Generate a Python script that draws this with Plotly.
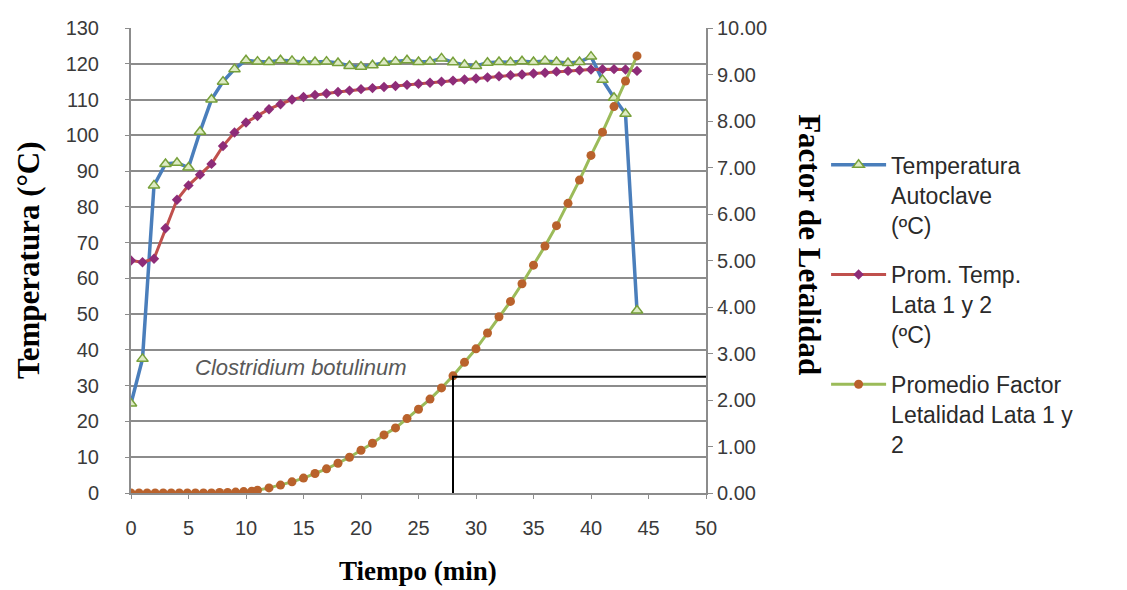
import plotly.graph_objects as go

# ---- data ----
tiempo = list(range(0, 45))
temp_autoclave = [25, 37.5, 86, 92, 92.3, 91, 101, 110, 115, 118.5,
                  121, 120.6, 120.5, 121, 120.8, 120.5, 120.5, 120.6, 120.2, 119.4,
                  119.2, 119.6, 120.3, 120.6, 121, 120.5, 120.6, 121.5, 120.4, 119.7,
                  119.4, 120.3, 120.5, 120.4, 120.7, 120.5, 120.8, 120.5, 120.2, 120.5,
                  122, 115.5, 110.5, 106, 51]
prom_temp_lata = [65, 64.5, 65.5, 74, 82, 86, 89, 92, 97, 100.8,
                  103.6, 105.4, 107.3, 108.7, 110, 110.7, 111.3, 111.7, 112.1, 112.5,
                  112.9, 113.2, 113.5, 113.8, 114.1, 114.4, 114.7, 115, 115.3, 115.6,
                  115.9, 116.2, 116.5, 116.8, 117, 117.3, 117.5, 117.8, 118, 118.2,
                  118.4, 118.5, 118.5, 118.4, 118]
tiempo_letalidad = [0, 0.7, 1.4, 2.1, 2.8, 3.5, 4.2, 4.9, 5.6, 6.3, 7.0, 7.7, 8.4, 9.1, 9.8, 10.5,
                    11, 12, 13, 14, 15, 16, 17, 18, 19, 20, 21, 22, 23, 24, 25, 26, 27, 28,
                    29, 30, 31, 32, 33, 34, 35, 36, 37, 38, 39, 40, 41, 42, 43, 44]
factor_letalidad = [0, 0, 0, 0, 0, 0, 0, 0, 0, 0, 0, 0.01, 0.01, 0.02, 0.03, 0.04,
                    0.06, 0.11, 0.17, 0.24, 0.32, 0.42, 0.52, 0.64, 0.77, 0.92, 1.07, 1.25, 1.40, 1.60,
                    1.80, 2.02, 2.26, 2.52, 2.81, 3.10, 3.44, 3.79, 4.12, 4.50, 4.90, 5.31, 5.75, 6.23,
                    6.73, 7.26, 7.76, 8.31, 8.86, 9.40]
ref_x = [28, 28, 50]
ref_y = [0, 2.5, 2.5]

x_ticks = list(range(0, 51, 5))
y_ticks = list(range(0, 131, 10))
y2_ticks = [i * 1.0 for i in range(0, 11)]

GRID = "#8C8C8C"
TICKC = "#3A3A3A"
SERIF = "Liberation Serif, Times New Roman, serif"

fig = go.Figure()
fig.add_trace(go.Scatter(
    x=tiempo, y=temp_autoclave, mode="lines+markers",
    name="Temperatura<br>Autoclave<br>(ºC)", legendgroup="a",
    line=dict(color="#4A7EBB", width=3.5),
    marker=dict(symbol="triangle-up", size=10, color="#DDEBC4",
                line=dict(color="#77A03A", width=1.5)),
))
fig.add_trace(go.Scatter(
    x=tiempo, y=prom_temp_lata, mode="lines+markers",
    name="Prom. Temp.<br>Lata 1 y 2<br>(ºC)", legendgroup="b",
    line=dict(color="#C0504D", width=3),
    marker=dict(symbol="diamond", size=8, color="#8E2C78"),
))
fig.add_trace(go.Scatter(
    x=tiempo_letalidad, y=factor_letalidad, mode="lines+markers", yaxis="y2",
    name="Promedio Factor<br>Letalidad Lata 1 y<br>2", legendgroup="c",
    line=dict(color="#9BBB59", width=3),
    marker=dict(symbol="circle", size=9, color="#B9622C"),
))
fig.add_trace(go.Scatter(
    x=ref_x, y=ref_y, mode="lines", yaxis="y2", showlegend=False,
    line=dict(color="#000000", width=2), hoverinfo="skip",
))

fig.update_layout(
    width=1127, height=590,
    margin=dict(l=131, r=421, t=28, b=97),
    plot_bgcolor="white", paper_bgcolor="white",
    font=dict(family="Liberation Sans, Arial, sans-serif", color=TICKC, size=20),
    xaxis=dict(range=[0, 50], tickvals=x_ticks, showgrid=False,
               showline=True, linecolor=GRID, linewidth=2, zeroline=False,
               ticks="outside", ticklen=4, tickcolor=GRID, ticklabelstandoff=12,
               tickfont=dict(size=20, color=TICKC)),
    yaxis=dict(range=[0, 130], tickvals=y_ticks, showgrid=True, gridcolor=GRID,
               gridwidth=2, showline=True, linecolor=GRID, linewidth=2,
               zeroline=False, ticks="outside", ticklen=4, tickcolor=GRID,
               ticklabelstandoff=22,
               tickfont=dict(size=20, color=TICKC)),
    yaxis2=dict(range=[0, 10], tickvals=y2_ticks, tickformat=".2f",
                overlaying="y", side="right", showgrid=False, zeroline=False,
                showline=True, linecolor=GRID, linewidth=2,
                ticks="outside", ticklen=5, tickcolor=GRID,
                tickfont=dict(size=20, color=TICKC)),
    showlegend=True,
    legend=dict(xref="container", yref="container", x=0.733, y=0.757,
                xanchor="left", yanchor="top", valign="top", maxheight=480,
                font=dict(size=23, color="#2A2A2A"), tracegroupgap=17,
                itemwidth=55, bgcolor="rgba(0,0,0,0)"),
    annotations=[
        dict(text="Temperatura (°C)", xref="paper", yref="paper", x=-0.179, y=0.501,
             xanchor="center", yanchor="middle", textangle=-90, showarrow=False,
             font=dict(family=SERIF, size=31, color="black", weight="bold")),
        dict(text="Factor de Letalidad", xref="paper", yref="paper", x=1.181, y=0.535,
             xanchor="center", yanchor="middle", textangle=90, showarrow=False,
             font=dict(family=SERIF, size=31, color="black", weight="bold")),
        dict(text="Tiempo (min)", xref="paper", yref="paper", x=0.499, y=-0.168,
             xanchor="center", yanchor="middle", showarrow=False,
             font=dict(family=SERIF, size=27, color="black", weight="bold")),
        dict(text="<i>Clostridium botulinum</i>", xref="x", yref="y", x=14.8, y=35,
             xanchor="center", yanchor="middle",
             showarrow=False, font=dict(size=22, color="#595959")),
    ],
)

fig.write_html("out.html")
